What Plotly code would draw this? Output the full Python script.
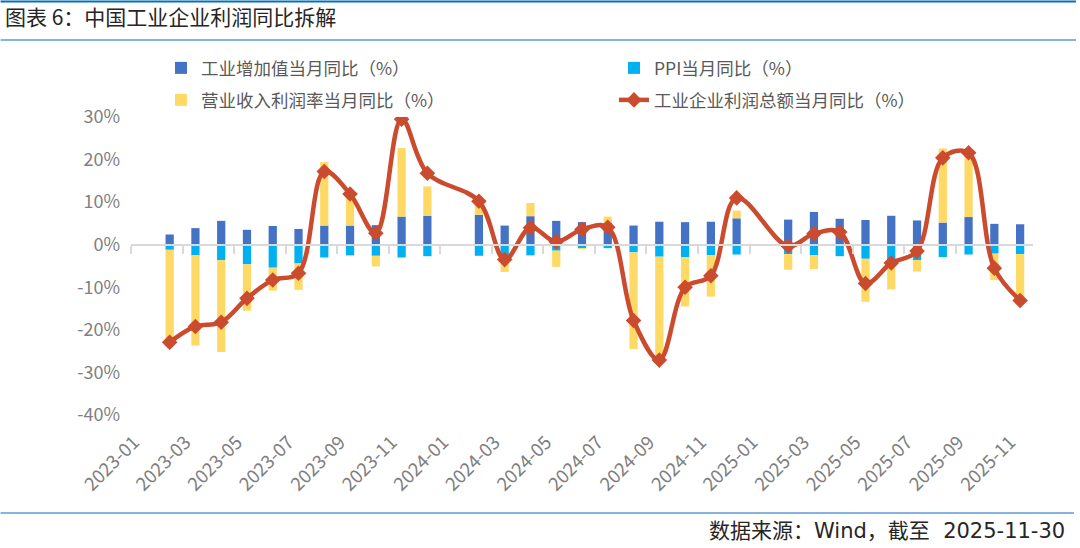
import plotly.graph_objects as go

# ---------------- data ----------------
months = [f"{y}-{m:02d}" for y in (2023, 2024, 2025) for m in range(1, 13)][:35]
tick_labels = months[::2]

iva = [None, 2.4, 3.9, 5.6, 3.5, 4.4, 3.7, 4.5, 4.5, 4.6, 6.6, 6.8,
       None, 7.0, 4.5, 6.7, 5.6, 5.3, 5.1, 4.5, 5.4, 5.3, 5.4, 6.2,
       None, 5.9, 7.7, 6.1, 5.8, 6.8, 5.7, 5.2, 6.5, 4.9, 4.8]
ppi = [None, -1.2, -2.5, -3.6, -4.6, -5.4, -4.4, -3.0, -2.5, -2.6, -3.0, -2.7,
       None, -2.6, -2.8, -2.5, -1.4, -0.8, -0.8, -1.8, -2.8, -2.9, -2.5, -2.3,
       None, -2.2, -2.5, -2.7, -3.3, -3.6, -3.6, -2.9, -2.3, -2.1, -2.2]
margin = [None, -22.7, -21.2, -21.6, -10.9, -5.4, -6.2, 14.9, 7.4, -2.5, 16.1, 6.9,
          None, 2.4, -3.6, 3.1, -3.8, -0.2, 1.5, -22.7, -24.5, -11.6, -9.7, 1.8,
          None, -3.7, -3.25, 0.0, -10.1, -6.9, -2.7, 17.4, 15.3, -6.2, -11.0]
profit = [None, -22.9, -19.2, -18.2, -12.6, -8.3, -6.7, 17.2, 11.9, 2.7, 29.5, 16.8,
          None, 10.2, -3.5, 4.0, 0.7, 3.6, 4.1, -17.8, -27.1, -10.0, -7.3, 11.0,
          None, -0.3, 2.6, 3.0, -9.1, -4.3, -1.5, 20.4, 21.6, -5.5, -13.1]
y_ticks = [30, 20, 10, 0, -10, -20, -30, -40]
y_tick_text = ["30%", "20%", "10%", "0%", "-10%", "-20%", "-30%", "-40%"]

names = ["工业增加值当月同比（%）", "PPI当月同比（%）",
         "营业收入利润率当月同比（%）", "工业企业利润总额当月同比（%）"]
title_text = "图表 6：中国工业企业利润同比拆解"
source_text = "数据来源：Wind，截至\u00a0\u00a02025-11-30"

# ---------------- layout geometry ----------------
W, H = 1080, 548
L, R, T, B = 130.5, 47, 117, 133
PW, PH = W - L - R, H - T - B
YMIN, YMAX = -40, 30

def fx(px):
    return (px - L) / PW

def fy(py):
    return (H - B - py) / PH

FONT = "Noto Sans CJK SC, Noto Sans, sans-serif"
FOOT_FONT = "DejaVu Sans, Noto Sans CJK SC, sans-serif"
BLUE, CYAN, YELLOW, RED = "#4472C4", "#00B0F0", "#FFD966", "#CB4B2F"
GRAY = "#7F7F7F"

idx = list(range(len(months)))

fig = go.Figure()
fig.add_trace(go.Bar(x=idx, y=iva, name=names[0], marker_color=BLUE,
                     marker_line_width=0, width=0.32, legend="legend"))
fig.add_trace(go.Bar(x=idx, y=ppi, name=names[1], marker_color=CYAN,
                     marker_line_width=0, width=0.32, legend="legend2"))
fig.add_trace(go.Bar(x=idx, y=margin, name=names[2], marker_color=YELLOW,
                     marker_line_width=0, width=0.32, legend="legend3"))
fig.add_trace(go.Scatter(x=idx, y=profit, name=names[3], mode="lines+markers",
                         connectgaps=True, xaxis="x2",
                         line=dict(color=RED, width=4.5, shape="spline", smoothing=1.0),
                         marker=dict(symbol="diamond", size=12, color=RED),
                         legend="legend4"))

def legend_at(px, py):
    return dict(orientation="h", xref="container", yref="container",
                x=px / W, xanchor="left", y=1 - py / H, yanchor="middle",
                font=dict(size=17.5, color="#595959", family=FONT),
                bgcolor="rgba(0,0,0,0)", borderwidth=0)

fig.update_layout(
    width=W, height=H,
    margin=dict(l=L, r=R, t=T, b=B, autoexpand=False),
    paper_bgcolor="white", plot_bgcolor="white",
    barmode="relative",
    font=dict(family=FONT, color=GRAY),
    title=dict(text=title_text, x=5 / W, xanchor="left", xref="container",
               y=1 - 18 / H, yanchor="middle", yref="container",
               font=dict(size=21, color="#262626", family=FONT)),
    xaxis=dict(range=[-0.5, len(months) - 0.5], tickmode="array",
               tickvals=idx[::2], ticktext=tick_labels, tickangle=-45,
               showgrid=False, zeroline=False, showline=False, ticks="",
               tickfont=dict(size=18.5, color=GRAY), ticklabelstandoff=12,
               ticklabelshift=-10, automargin=False),
    xaxis2=dict(matches="x", overlaying="x", anchor="free",
                position=(0 - YMIN) / (YMAX - YMIN),
                showline=True, linecolor="#D9D9D9", linewidth=2,
                ticks="outside", ticklen=8, tickwidth=1.5, tickcolor="#D9D9D9",
                tickmode="array", tickvals=[i - 0.5 for i in idx[::2]][:-1],
                showticklabels=False, showgrid=False, zeroline=False,
                automargin=False),
    yaxis=dict(range=[YMIN, YMAX], tickmode="array", tickvals=y_ticks,
               ticktext=y_tick_text, showgrid=False, zeroline=False,
               showline=False, ticks="", tickfont=dict(size=18, color=GRAY),
               ticklabelstandoff=10, automargin=False),
    legend=legend_at(161, 68),
    legend2=legend_at(614, 68),
    legend3=legend_at(161, 100),
    legend4=legend_at(614, 100),
    showlegend=True,
)

# decorative rules (title bar / footer)
fig.add_shape(type="line", xref="paper", yref="paper",
              x0=fx(0), x1=fx(1076), y0=fy(1.5), y1=fy(1.5),
              line=dict(color="#0070C0", width=2))
fig.add_shape(type="line", xref="paper", yref="paper",
              x0=fx(0), x1=fx(1076), y0=fy(40), y1=fy(40),
              line=dict(color="#5B9BD5", width=1.5))
fig.add_shape(type="line", xref="paper", yref="paper",
              x0=fx(0), x1=fx(1074), y0=fy(513), y1=fy(513),
              line=dict(color="#5B9BD5", width=1.5))

fig.add_annotation(text=source_text, xref="paper", yref="paper",
                   x=fx(1067), y=fy(531), xanchor="right", yanchor="middle",
                   showarrow=False, font=dict(size=21, color="#262626", family=FOOT_FONT))

fig.write_html("out.html", config={"displayModeBar": False},
               post_script="document.body.style.margin='0';document.body.style.overflow='hidden';")
